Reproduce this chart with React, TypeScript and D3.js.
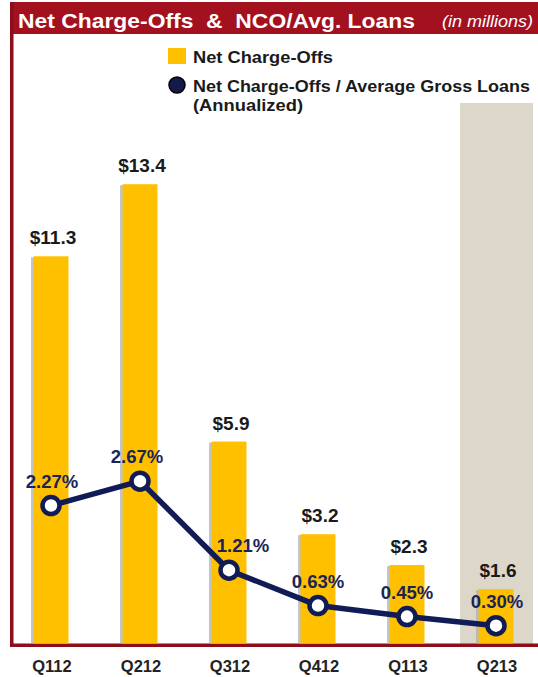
import React from "react";
import * as d3 from "d3";

const categories = ["Q112", "Q212", "Q312", "Q412", "Q113", "Q213"];
const chargeOffs = [11.3, 13.4, 5.9, 3.2, 2.3, 1.6];
const ncoRatio = [2.27, 2.67, 1.21, 0.63, 0.45, 0.3];
const barLabels = ["$11.3", "$13.4", "$5.9", "$3.2", "$2.3", "$1.6"];
const pctLabels = ["2.27%", "2.67%", "1.21%", "0.63%", "0.45%", "0.30%"];
const pctLabelDx = [1, -3, 14, 0, 0, 1];

const W = 538;
const H = 677;
const FONT = "'Liberation Sans', Arial, sans-serif";
const NAVY = "#111b55";
const GOLD = "#FFC000";
const RED = "#A3101E";

export default function App() {
  const x = d3.scalePoint<string>().domain(categories).range([51, 496]);
  const yBar = d3.scaleLinear().domain([0, 16]).range([644, 95]);
  const yPct = d3.scaleLinear().domain([0, 9]).range([644, 95]);
  const barW = 35;
  const line = d3
    .line<number>()
    .x((_, i) => x(categories[i]) as number)
    .y((d) => yPct(d));

  return (
    <svg
      width={W}
      height={H}
      style={{ position: "absolute", left: 0, top: 0, background: "#fff" }}
      fontFamily={FONT}
    >
      {/* shaded forecast column */}
      <rect x={460} y={103} width={73} height={541} fill="#DDD7C9" />

      {/* header */}
      <rect x={10} y={2} width={W - 10} height={32} fill={RED} />
      <text
        x={18}
        y={28}
        fill="#fff"
        fontSize={21}
        fontWeight="bold"
        textLength={397}
        lengthAdjust="spacingAndGlyphs"
        style={{ whiteSpace: "pre" }}
      >
        {"Net Charge-Offs  &  NCO/Avg. Loans"}
      </text>
      <text
        x={442}
        y={27}
        fill="#fff"
        fontSize={16}
        fontStyle="italic"
        textLength={91}
        lengthAdjust="spacingAndGlyphs"
      >
        (in millions)
      </text>

      {/* frame */}
      <rect x={10} y={2} width={3.5} height={645} fill="#8E0D1A" />
      <rect x={10} y={643.5} width={W - 10} height={3.5} fill="#8E0D1A" />

      {/* legend */}
      <rect x={168} y={48} width={18} height={16} fill={GOLD} />
      <text
        x={193}
        y={63}
        fontSize={17}
        fontWeight="bold"
        fill="#1a1a1a"
        textLength={140}
        lengthAdjust="spacingAndGlyphs"
      >
        Net Charge-Offs
      </text>
      <circle cx={177} cy={85} r={8} fill="#141a4c" stroke="#000" strokeWidth={1.5} />
      <text
        x={193}
        y={92}
        fontSize={17}
        fontWeight="bold"
        fill="#1a1a1a"
        textLength={337}
        lengthAdjust="spacingAndGlyphs"
      >
        Net Charge-Offs / Average Gross Loans
      </text>
      <text x={193} y={111} fontSize={17} fontWeight="bold" fill="#1a1a1a" textLength={110} lengthAdjust="spacingAndGlyphs">
        (Annualized)
      </text>

      {/* bars */}
      {chargeOffs.map((v, i) => {
        const cx = x(categories[i]) as number;
        const top = yBar(v);
        return (
          <g key={categories[i]}>
            <rect x={cx - barW / 2 - 2.5} y={top + 1} width={3} height={643.5 - top - 1} fill="#a7acb8" opacity={0.7} />
            <rect x={cx - barW / 2} y={top} width={barW} height={643.5 - top} fill={GOLD} />
            <text
              x={cx + 2}
              y={top - 12}
              textAnchor="middle"
              fontSize={19}
              fontWeight="bold"
              fill="#1a1a1a"
            >
              {barLabels[i]}
            </text>
          </g>
        );
      })}

      {/* line */}
      <path d={line(ncoRatio) || ""} fill="none" stroke={NAVY} strokeWidth={5.5} strokeLinejoin="round" />
      {ncoRatio.map((v, i) => {
        const cx = x(categories[i]) as number;
        const cy = yPct(v);
        return (
          <g key={"p" + i}>
            <circle cx={cx} cy={cy} r={8.5} fill="#fff" stroke={NAVY} strokeWidth={4.5} />
            <text
              x={cx + pctLabelDx[i]}
              y={cy - 18}
              textAnchor="middle"
              fontSize={18.5}
              fontWeight="bold"
              fill="#1c2456"
            >
              {pctLabels[i]}
            </text>
          </g>
        );
      })}

      {/* category labels */}
      {categories.map((c) => (
        <text
          key={c}
          x={(x(c) as number) + 1}
          y={672}
          textAnchor="middle"
          fontSize={16.5}
          fontWeight="bold"
          fill="#222"
        >
          {c}
        </text>
      ))}
    </svg>
  );
}
